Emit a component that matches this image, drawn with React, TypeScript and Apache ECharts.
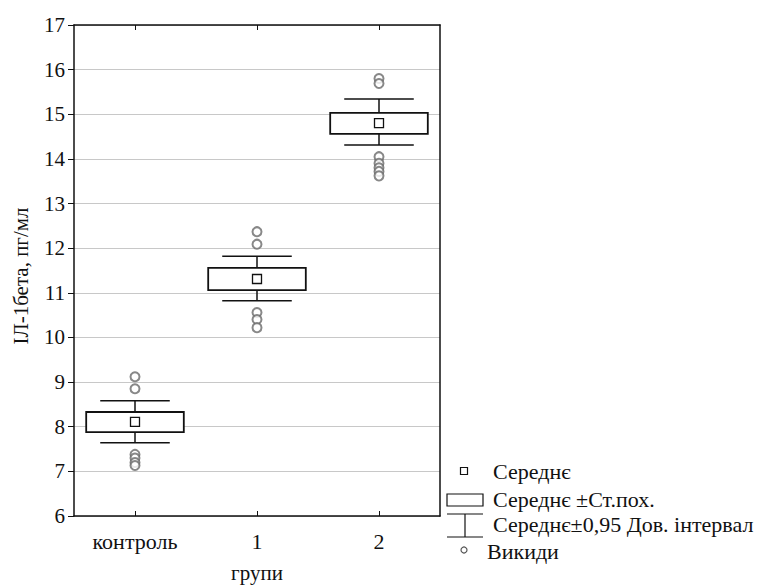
import React, { useEffect, useRef } from "react";
import * as echarts from "echarts";

const categories = ["контроль", "1", "2"];
const ciLow = [7.64, 10.82, 14.31];
const seLow = [7.88, 11.06, 14.56];
const means = [8.11, 11.31, 14.8];
const seHigh = [8.33, 11.56, 15.03];
const ciHigh = [8.58, 11.82, 15.34];
const outliersControl = [9.12, 8.85, 7.38, 7.3, 7.2, 7.13];
const outliersG1 = [12.37, 12.09, 10.56, 10.4, 10.22];
const outliersG2 = [15.8, 15.69, 14.05, 13.9, 13.8, 13.72, 13.62];
const outlierGroups = [outliersControl, outliersG1, outliersG2];

const yMin = 6;
const yMax = 17;
const yStep = 1;

const yAxisTitle = "ІЛ-1бета, пг/мл";
const xAxisTitle = "групи";
const legendLabels = [
  "Середнє",
  "Середнє ±Ст.пох.",
  "Середнє±0,95 Дов. інтервал",
  "Викиди",
];

const FONT = "Liberation Serif";

export default function App() {
  const ref = useRef<HTMLDivElement>(null);

  useEffect(() => {
    if (!ref.current) return;
    const chart = echarts.init(ref.current, undefined, { renderer: "svg" });

    const boxData = categories.map((_, i) => [
      i,
      ciLow[i],
      seLow[i],
      means[i],
      seHigh[i],
      ciHigh[i],
    ]);
    const outlierData: number[][] = [];
    outlierGroups.forEach((g, i) => g.forEach((v) => outlierData.push([i, v])));

    const black = "#111";
    const legendText = (text: string, x: number, y: number) => ({
      type: "text",
      x,
      y,
      style: { text, fontFamily: FONT, fontSize: 22, fill: black, verticalAlign: "middle" },
    });

    const option: any = {
      animation: false,
      backgroundColor: "#fff",
      textStyle: { fontFamily: FONT },
      grid: { left: 74, right: 330, top: 25, bottom: 69, containLabel: false },
      xAxis: [
        {
          type: "category",
          data: categories,
          position: "bottom",
          boundaryGap: true,
          axisLine: { show: true, lineStyle: { color: black, width: 1.5 } },
          axisTick: { show: true, inside: true, length: 5, alignWithLabel: true, lineStyle: { color: black } },
          axisLabel: { color: black, fontFamily: FONT, fontSize: 22, margin: 14 },
          splitLine: { show: false },
        },
        {
          type: "category",
          data: categories,
          position: "top",
          boundaryGap: true,
          axisLine: { show: true, lineStyle: { color: black, width: 1.5 } },
          axisTick: { show: true, inside: true, length: 5, alignWithLabel: true, lineStyle: { color: black } },
          axisLabel: { show: false },
          splitLine: { show: false },
        },
      ],
      yAxis: [
        {
          type: "value",
          min: yMin,
          max: yMax,
          interval: yStep,
          position: "left",
          axisLine: { show: true, lineStyle: { color: black, width: 1.5 } },
          axisTick: { show: true, inside: false, length: 6, lineStyle: { color: black } },
          axisLabel: { color: black, fontFamily: FONT, fontSize: 21, margin: 9 },
          splitLine: { show: true, lineStyle: { color: "#c8c8c8", width: 1 } },
        },
        {
          type: "value",
          min: yMin,
          max: yMax,
          interval: yStep,
          position: "right",
          axisLine: { show: true, lineStyle: { color: black, width: 1.5 } },
          axisTick: { show: false },
          axisLabel: { show: false },
          splitLine: { show: false },
        },
      ],
      series: [
        {
          type: "custom",
          xAxisIndex: 0,
          yAxisIndex: 0,
          encode: { x: 0, y: [1, 2, 3, 4, 5] },
          data: boxData,
          z: 3,
          renderItem: (params: any, api: any) => {
            const x = api.value(0);
            const pCiL = api.coord([x, api.value(1)]);
            const pSeL = api.coord([x, api.value(2)]);
            const pM = api.coord([x, api.value(3)]);
            const pSeH = api.coord([x, api.value(4)]);
            const pCiH = api.coord([x, api.value(5)]);
            const band = api.size([1, 0])[0];
            const bw = band * 0.8;
            const cw = band * 0.57;
            const cx = pM[0];
            const ls = { stroke: black, lineWidth: 1.5 };
            return {
              type: "group",
              children: [
                { type: "line", shape: { x1: cx, y1: pCiH[1], x2: cx, y2: pSeH[1] }, style: ls },
                { type: "line", shape: { x1: cx, y1: pSeL[1], x2: cx, y2: pCiL[1] }, style: ls },
                { type: "line", shape: { x1: cx - cw / 2, y1: pCiH[1], x2: cx + cw / 2, y2: pCiH[1] }, style: ls },
                { type: "line", shape: { x1: cx - cw / 2, y1: pCiL[1], x2: cx + cw / 2, y2: pCiL[1] }, style: ls },
                {
                  type: "rect",
                  shape: { x: cx - bw / 2, y: pSeH[1], width: bw, height: pSeL[1] - pSeH[1] },
                  style: { fill: "#fff", stroke: black, lineWidth: 1.8 },
                },
                {
                  type: "rect",
                  shape: { x: cx - 4.5, y: pM[1] - 4.5, width: 9, height: 9 },
                  style: { fill: "#fff", stroke: black, lineWidth: 1.3 },
                },
              ],
            };
          },
        },
        {
          type: "scatter",
          xAxisIndex: 0,
          yAxisIndex: 0,
          data: outlierData,
          symbol: "emptyCircle",
          symbolSize: 9,
          itemStyle: { color: "#6a6a6a", borderColor: "#6a6a6a", borderWidth: 1.1 },
          z: 4,
        },
      ],
      graphic: [
        {
          type: "text",
          x: 21,
          y: 276,
          rotation: Math.PI / 2,
          style: { text: yAxisTitle, fontFamily: FONT, fontSize: 21, fill: black, align: "center", verticalAlign: "middle" },
        },
        {
          type: "text",
          x: 257,
          y: 573,
          style: { text: xAxisTitle, fontFamily: FONT, fontSize: 21, fill: black, align: "center", verticalAlign: "middle" },
        },
        { type: "rect", shape: { x: 460.5, y: 467.5, width: 7, height: 7 }, style: { fill: "#fff", stroke: black, lineWidth: 1.2 } },
        legendText(legendLabels[0], 493, 471),
        { type: "rect", shape: { x: 447, y: 494, width: 36, height: 12 }, style: { fill: "#fff", stroke: black, lineWidth: 1.2 } },
        legendText(legendLabels[1], 493, 499),
        { type: "line", shape: { x1: 447, y1: 514, x2: 483, y2: 514 }, style: { stroke: black, lineWidth: 1.2 } },
        { type: "line", shape: { x1: 447, y1: 537, x2: 483, y2: 537 }, style: { stroke: black, lineWidth: 1.2 } },
        { type: "line", shape: { x1: 465, y1: 514, x2: 465, y2: 537 }, style: { stroke: black, lineWidth: 1.2 } },
        legendText(legendLabels[2], 493, 524),
        { type: "circle", shape: { cx: 464, cy: 550, r: 3 }, style: { fill: "#fff", stroke: "#555", lineWidth: 1.2 } },
        legendText(legendLabels[3], 487, 551),
      ],
    };

    chart.setOption(option);
    return () => chart.dispose();
  }, []);

  return <div ref={ref} style={{ width: 770, height: 585, position: "absolute", left: 0, top: 0 }} />;
}
